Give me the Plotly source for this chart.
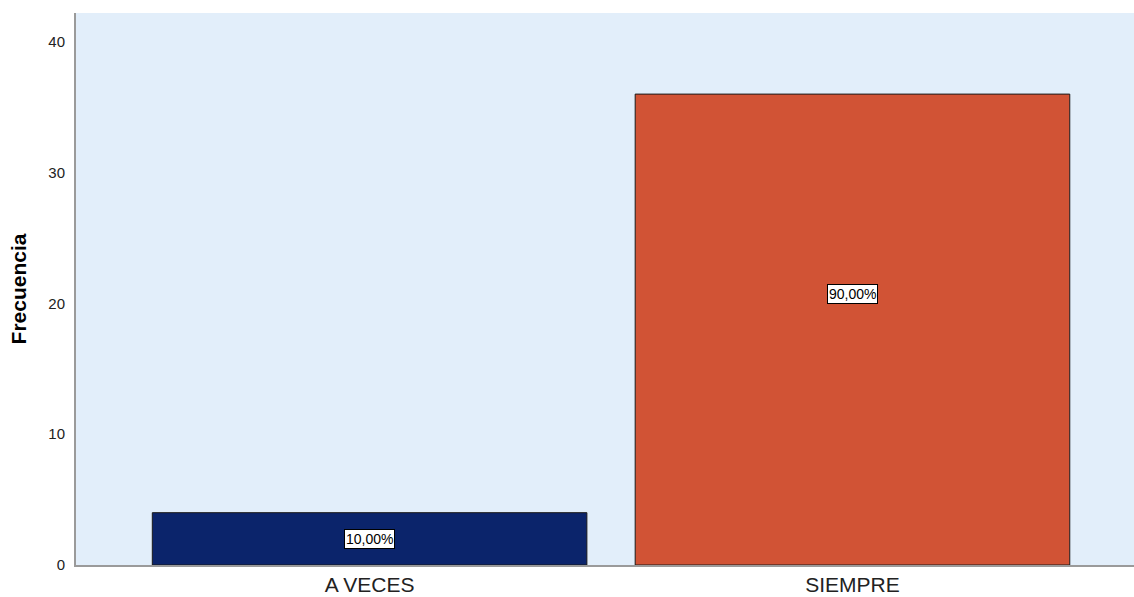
import plotly.graph_objects as go

categorias = ["A VECES", "SIEMPRE"]
frecuencias = [4, 36]
porcentajes = ["10,00%", "90,00%"]
pos_etiqueta = [2.0, 20.7]
colores = ["#0b246b", "#d15335"]

fig = go.Figure()
fig.add_trace(go.Bar(
    x=categorias,
    y=frecuencias,
    width=0.9,
    marker=dict(color=colores, line=dict(color="#1a1a1a", width=1)),
    hoverinfo="skip",
))

for cat, txt, yy in zip(categorias, porcentajes, pos_etiqueta):
    fig.add_annotation(
        x=cat, y=yy, text=txt, showarrow=False,
        font=dict(family="Liberation Sans, Arial", size=14, color="black"),
        bgcolor="white", bordercolor="black", borderwidth=1, borderpad=1,
    )

fig.update_layout(
    width=1134, height=597,
    margin=dict(l=76, r=0, t=13, b=32),
    paper_bgcolor="white",
    plot_bgcolor="#e2eefa",
    showlegend=False,
    font=dict(family="Liberation Sans, Arial", color="black"),
)
fig.update_xaxes(
    range=[-0.608, 1.583],
    showline=True, linecolor="#9a9a9a", linewidth=2,
    showgrid=False, ticks="",
    tickfont=dict(size=21, color="#222"),
)
fig.update_yaxes(
    range=[0, 42.2],
    tickvals=[0, 10, 20, 30, 40],
    showline=True, linecolor="#9a9a9a", linewidth=2,
    showgrid=False, zeroline=False, ticks="",
    ticklabelstandoff=6,
    tickfont=dict(size=15, color="#222"),
    title=dict(text="<b>Frecuencia</b>", font=dict(size=21, color="black"), standoff=16),
)

fig.write_html("out.html")
